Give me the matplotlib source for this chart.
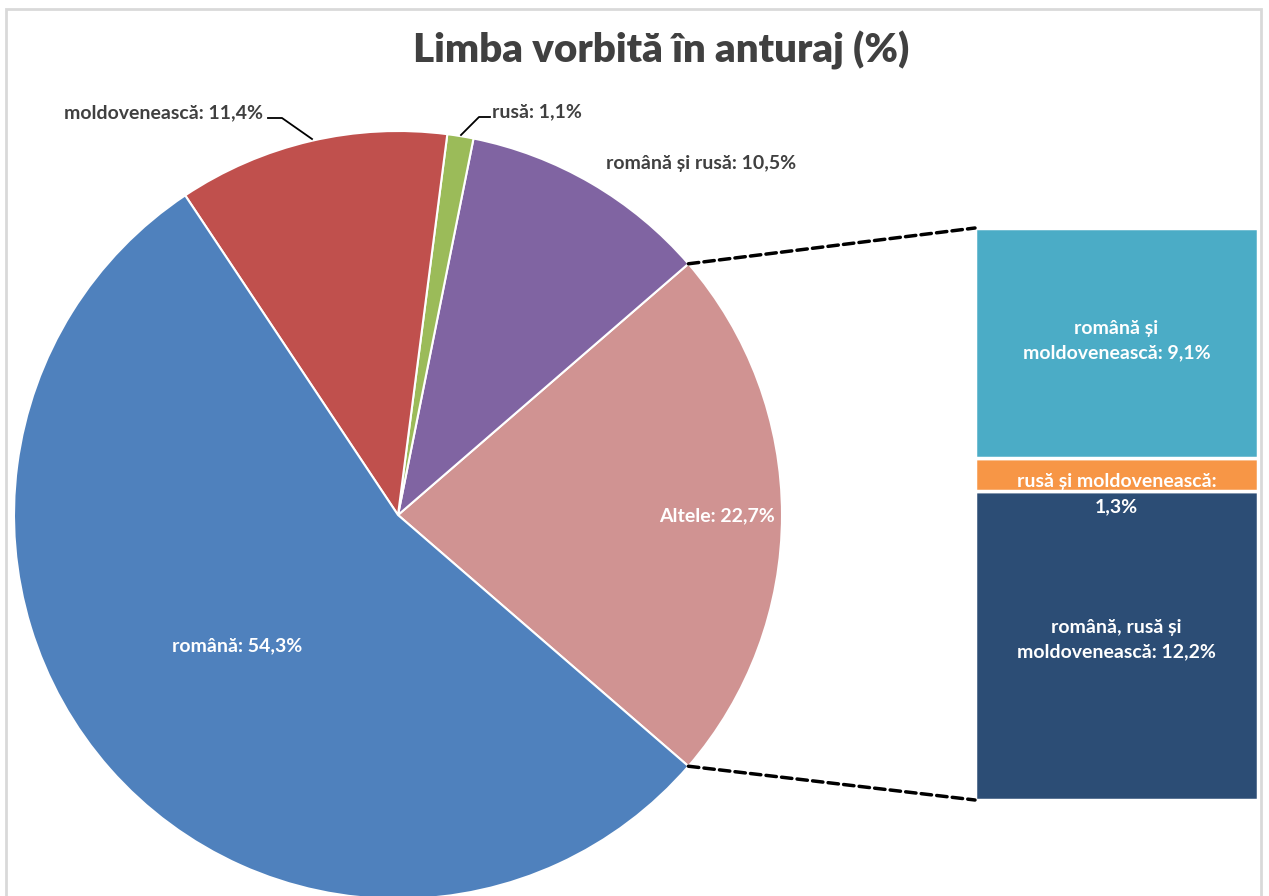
import matplotlib
matplotlib.use('Agg')
import matplotlib.pyplot as plt
from matplotlib.patches import ConnectionPatch, Rectangle
import numpy as np

plt.rcParams['font.family'] = ['Lato', 'DejaVu Sans']
plt.rcParams['font.weight'] = 'bold'

title = 'Limba vorbită în anturaj (%)'

# main pie, counterclockwise starting from "Altele"
pie_labels = ['Altele', 'română și rusă', 'rusă', 'moldovenească', 'română']
pie_values = [22.7, 10.5, 1.1, 11.4, 54.3]
pie_colors = ['#D09392', '#8064A2', '#9BBB59', '#C0504D', '#4F81BD']

# breakdown of "Altele" (bottom to top)
bar_labels = ['română, rusă și\nmoldovenească', 'rusă și moldovenească:', 'română și\nmoldovenească']
bar_values = [12.2, 1.3, 9.1]
bar_colors = ['#2C4D75', '#F79646', '#4BACC6']

W, H = 1269, 896
fig = plt.figure(figsize=(W / 100, H / 100), dpi=100)
fig.patch.set_facecolor('white')

# chart border
fig.add_artist(Rectangle((6 / W, -0.1), 1255 / W, 1.1 - 9 / H, transform=fig.transFigure,
                         fill=False, edgecolor='#D9D9D9', linewidth=2))

fig.text(661 / W, 1 - 50 / H, title, ha='center', va='center', fontsize=29,
         fontweight='heavy', color='#404040')

# pie axes
cx, cy, r = 398, 515, 384
ax = fig.add_axes([(cx - r) / W, (H - cy - r) / H, 2 * r / W, 2 * r / H])
start = -pie_values[0] / 2 * 3.6
wedges, _ = ax.pie(pie_values, colors=pie_colors, startangle=start, counterclock=True,
                   radius=1, wedgeprops=dict(edgecolor='white', linewidth=1.5))
ax.set_xlim(-1, 1)
ax.set_ylim(-1, 1)
ax.set_aspect('equal')
ax.axis('off')

def pfmt(v):
    return ('%.1f%%' % v).replace('.', ',')

def px(x, y):
    return ((x - cx) / r, (cy - y) / r)

lab_col = '#404040'
fs = 14
# inside labels
ax.text(*px(237, 646), pie_labels[4] + ': ' + pfmt(pie_values[4]), ha='center', va='center',
        color='white', fontsize=fs, fontweight='bold')
ax.text(*px(717, 516), pie_labels[0] + ': ' + pfmt(pie_values[0]), ha='center', va='center',
        color='white', fontsize=fs, fontweight='bold')

# outside labels
ax.text(*px(263, 113), pie_labels[3] + ': ' + pfmt(pie_values[3]), ha='right', va='center',
        color=lab_col, fontsize=fs, fontweight='bold', clip_on=False)
ax.plot(*zip(px(268, 118), px(282, 118), px(312, 139)), color='black', lw=1.3, clip_on=False)
ax.text(*px(492, 112), pie_labels[2] + ': ' + pfmt(pie_values[2]), ha='left', va='center',
        color=lab_col, fontsize=fs, fontweight='bold', clip_on=False)
ax.plot(*zip(px(490, 117), px(479, 117), px(461, 135)), color='black', lw=1.3, clip_on=False)
ax.text(*px(701, 163), pie_labels[1] + ': ' + pfmt(pie_values[1]), ha='center', va='center',
        color=lab_col, fontsize=fs, fontweight='bold', clip_on=False)

# bar of pie
bx0, bx1, by0, by1 = 975, 1258, 228, 800
bax = fig.add_axes([bx0 / W, (H - by1) / H, (bx1 - bx0) / W, (by1 - by0) / H])
total = sum(bar_values)
bottom = 0
for v, c in zip(bar_values, bar_colors):
    bax.bar(0, v, bottom=bottom, width=1, color=c, edgecolor='white', linewidth=2.5)
    bottom += v
bax.set_xlim(-0.5, 0.5)
bax.set_ylim(0, total)
bax.axis('off')

bax.text(0, 12.2 * 0.52, bar_labels[0] + ': ' + pfmt(bar_values[0]), ha='center', va='center',
         color='white', fontsize=fs, fontweight='bold', linespacing=1.55)
bax.text(0, 12.2 + 0.4, bar_labels[1], ha='center', va='center',
         color='white', fontsize=fs, fontweight='bold')
bax.text(0, 12.2 - 0.62, pfmt(bar_values[1]), ha='center', va='center',
         color='white', fontsize=fs, fontweight='bold')
bax.text(0, 13.5 + 9.1 * 0.51, bar_labels[2] + ': ' + pfmt(bar_values[2]), ha='center', va='center',
         color='white', fontsize=fs, fontweight='bold', linespacing=1.55)

# connector lines
a = np.deg2rad(pie_values[0] / 2 * 3.6)
for sgn, yb in [(1, total), (-1, 0)]:
    con = ConnectionPatch(xyA=(np.cos(a), sgn * np.sin(a)), coordsA=ax.transData,
                          xyB=(-0.5, yb), coordsB=bax.transData,
                          color='black', linestyle=(0, (3, 1.5)), linewidth=2.5)
    fig.add_artist(con)

fig.savefig('out.png', dpi=100)
